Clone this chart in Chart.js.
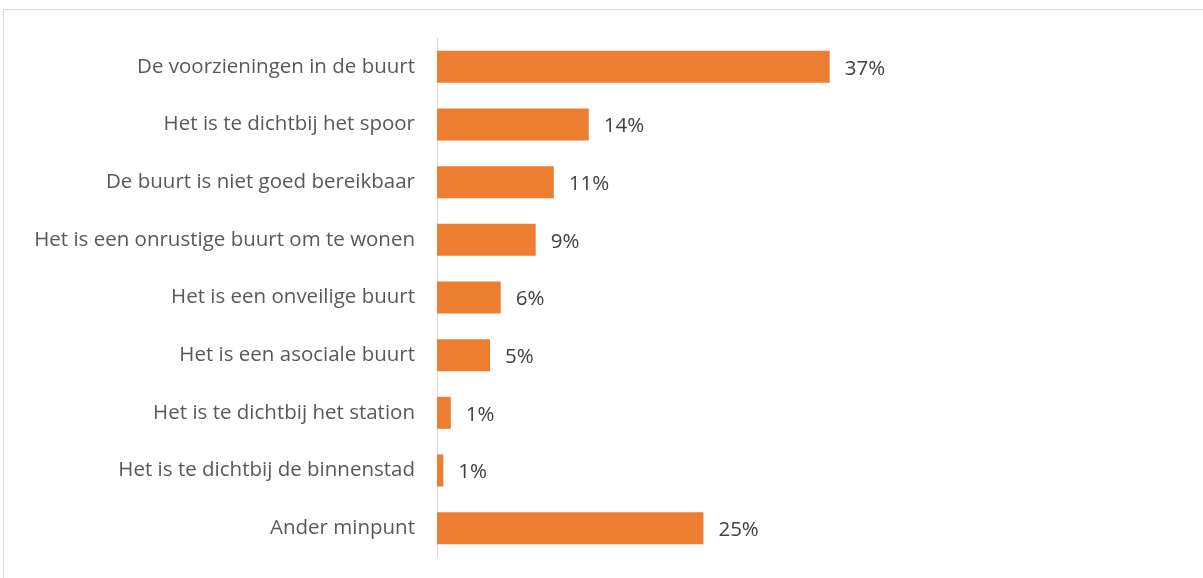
<!DOCTYPE html>
<html>
<head>
<meta charset="utf-8">
<script src="https://cdn.jsdelivr.net/npm/chart.js@4/dist/chart.umd.min.js"></script>
<style>
  html, body { margin: 0; padding: 0; background: #ffffff; overflow: hidden; }
  #wrap { position: relative; width: 1203px; height: 578px; overflow: hidden; background: #fff; }
  #frame { position: absolute; left: 3px; top: 9px; width: 1400px; height: 800px; border: 1px solid #d9d9d9; box-sizing: border-box; }
  #c { position: absolute; left: 0; top: 0; }
</style>
</head>
<body>
<div id="wrap">
  <div id="frame"></div>
  <canvas id="c" width="1203" height="578"></canvas>
</div>
<script>
const categories = [
  "De voorzieningen in de buurt",
  "Het is te dichtbij het spoor",
  "De buurt is niet goed bereikbaar",
  "Het is een onrustige buurt om te wonen",
  "Het is een onveilige buurt",
  "Het is een asociale buurt",
  "Het is te dichtbij het station",
  "Het is te dichtbij de binnenstad",
  "Ander minpunt"
];
const values = [37.0, 14.3, 11.0, 9.3, 6.0, 5.0, 1.3, 0.6, 25.1];
const valueLabels = ["37%", "14%", "11%", "9%", "6%", "5%", "1%", "1%", "25%"];

const FONT = "Open Sans";

const valueLabelPlugin = {
  id: "valueLabels",
  afterDatasetsDraw(chart) {
    const ctx = chart.ctx;
    const meta = chart.getDatasetMeta(0);
    ctx.save();
    ctx.font = "20.5px " + FONT;
    ctx.fillStyle = "#404040";
    ctx.textAlign = "left";
    ctx.textBaseline = "middle";
    meta.data.forEach((bar, i) => {
      ctx.fillText(valueLabels[i], bar.x + 15, bar.y + 2);
    });
    ctx.restore();
  }
};

new Chart(document.getElementById("c"), {
  type: "bar",
  data: {
    labels: categories,
    datasets: [{
      data: values,
      backgroundColor: "#ED7D31",
      borderWidth: 0,
      barPercentage: 0.555,
      categoryPercentage: 1.0
    }]
  },
  options: {
    indexAxis: "y",
    responsive: false,
    animation: false,
    devicePixelRatio: 1,
    layout: { padding: { top: 38, bottom: 21, left: 0, right: 23 } },
    plugins: {
      legend: { display: false },
      title: { display: false },
      tooltip: { enabled: false }
    },
    scales: {
      x: { display: false, min: 0, max: 70 },
      y: {
        afterFit(scale) {
          scale.width = 437;
          scale.paddingTop = 0;
          scale.paddingBottom = 0;
        },
        grid: { display: false, drawTicks: false },
        border: { display: true, color: "#d9d9d9", width: 1 },
        ticks: { color: "#595959", padding: 22, font: { family: FONT, size: 20.5 } }
      }
    }
  },
  plugins: [valueLabelPlugin]
});
</script>
</body>
</html>
